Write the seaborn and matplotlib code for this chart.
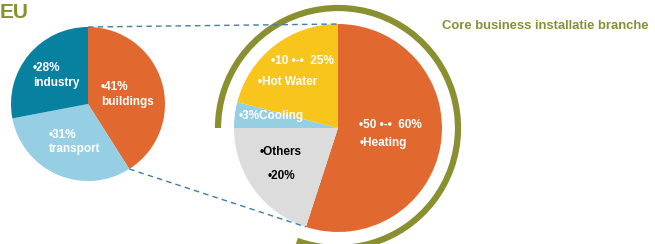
import numpy as np
import matplotlib
matplotlib.use("Agg")
import matplotlib.pyplot as plt
from matplotlib.patches import Arc
import seaborn as sns

# EU energy use by sector
eu_sectors = ["buildings", "transport", "industry"]
eu_shares = [41, 31, 28]
eu_labels = ["\u202241%\nbuildings", "\u202231%\ntransport", "\u202228%\nindustry"]

# energy use inside buildings
bld_uses = ["Heating", "Others", "Cooling", "Hot Water"]
bld_shares = [55, 20, 4, 21]
bld_lines = [["\u202250 \u2022-\u2022  60%", "\u2022Heating"],
             ["\u2022Others", "\u202220%"],
             ["\u20223%Cooling"],
             ["\u202210 \u2022-\u2022  25%", "\u2022Hot Water"]]

sns.set_theme(style="white")
plt.rcParams["font.family"] = ["Liberation Sans", "DejaVu Sans"]

orange = "#E1682F"
olive = "#8A8F30"
eu_colors = [orange, "#96CFE3", "#0880A0"]
bld_colors = [orange, "#DCDCDC", "#96CFE3", "#F8C51C"]

fig = plt.figure(figsize=(6.55, 2.44), dpi=100)
ax = fig.add_axes([0, 0, 1, 1])

c1, r1 = (88, 140), 77
c2, r2 = (338, 116), 104

w1, _ = ax.pie(eu_shares, colors=eu_colors, startangle=90, counterclock=False,
               center=c1, radius=r1, wedgeprops=dict(linewidth=0))
w2, _ = ax.pie(bld_shares, colors=bld_colors, startangle=90, counterclock=False,
               center=c2, radius=r2, wedgeprops=dict(linewidth=0))
ax.set_xlim(0, 655)
ax.set_ylim(0, 244)
ax.set_aspect("equal")
ax.axis("off")

tp = dict(fontsize=8.5, fontweight="bold", ha="left", va="center", linespacing=1.25)
# label anchors (left edge, centre) in image pixels
eu_pos = [(101, 94.5), (49, 142), (33, 75.5)]
for (x, y), lab in zip(eu_pos, eu_labels):
    ax.text(x, 244 - y, lab, color="white", **tp)

bld_pos = [[(359, 125), (360, 143)],
           [(260, 152), (268, 176)],
           [(239, 116)],
           [(271, 61), (258, 82)]]
bld_txt = ["white", "black", "white", "white"]
for lines, pos, col in zip(bld_lines, bld_pos, bld_txt):
    for lab, (x, y) in zip(lines, pos):
        ax.text(x, 244 - y, lab, color=col, **tp)

# dashed connectors between the two pies
def edge_point(center, r, deg):
    return center[0] + r * np.cos(np.radians(deg)), center[1] + r * np.sin(np.radians(deg))

top1 = edge_point(c1, r1, 90)
top2 = edge_point(c2, r2, 90)
b1 = edge_point(c1, r1, w1[0].theta1)
b2 = edge_point(c2, r2, w2[0].theta1)
ax.plot([top1[0], top2[0]], [top1[1], top2[1]], ls=(0, (4, 3)), color="#3F7FA8", lw=1)
ax.plot([b1[0], b2[0]], [b1[1], b2[1]], ls=(0, (4, 3)), color="#3F7FA8", lw=1)

# olive ring around core business part
ax.add_patch(Arc(c2, 240, 240, theta1=-110, theta2=180, color=olive, lw=4.5))

ax.text(0, 244 - 12, "EU", color=olive, fontsize=15, fontweight="bold", ha="left", va="center")
ax.text(442, 244 - 26, "Core business installatie branche", color=olive,
        fontsize=9.4, fontweight="bold", ha="left", va="center")

fig.savefig("out.png", dpi=100)
